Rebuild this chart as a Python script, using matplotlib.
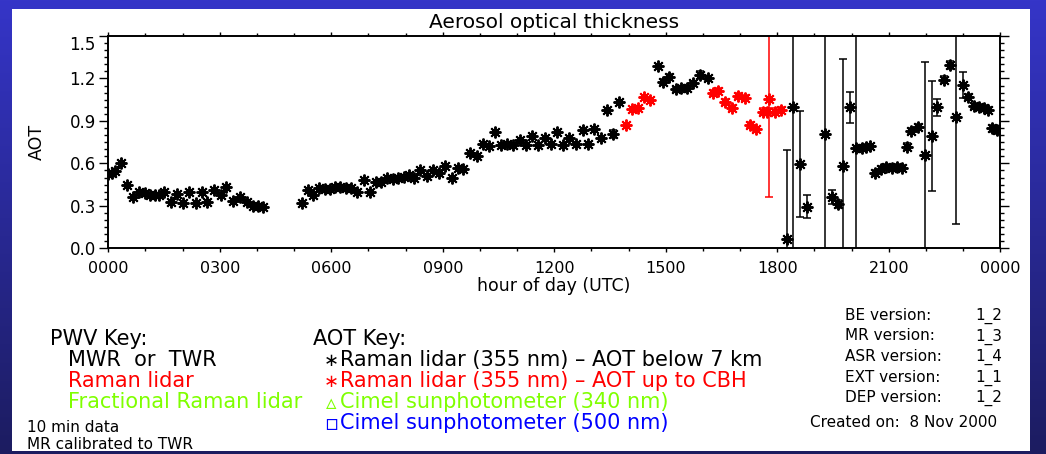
import numpy as np
import matplotlib.pyplot as plt
from matplotlib.patches import Rectangle
from matplotlib.transforms import ScaledTranslation

# Raman lidar (355 nm) AOT below 7 km
black_hour = [0.00, 0.09, 0.18, 0.33, 0.49, 0.67, 0.83, 0.99, 1.12, 1.26, 1.37, 1.50,
              1.68, 1.86, 2.02, 2.18, 2.36, 2.52, 2.66, 2.84, 3.02, 3.18, 3.36, 3.54,
              3.72, 3.90, 4.03, 4.17,
              5.20, 5.38, 5.52, 5.68, 5.83, 5.96, 6.10, 6.23, 6.39, 6.53, 6.70, 6.88,
              7.04, 7.20, 7.34, 7.51, 7.66, 7.80, 7.95, 8.10, 8.22, 8.39, 8.57, 8.73,
              8.90, 9.06, 9.24, 9.42, 9.55, 9.73, 9.91, 10.07, 10.25, 10.40, 10.56,
              10.74, 10.90, 11.08, 11.24, 11.39, 11.57, 11.75, 11.90, 12.08, 12.24,
              12.40, 12.58, 12.76, 12.90, 13.07, 13.25, 13.41, 13.59, 13.75,
              14.80, 14.93, 15.09, 15.27, 15.40, 15.56, 15.74, 15.92, 16.14,
              18.25, 18.43, 18.61, 18.79, 19.28, 19.46, 19.64, 19.77, 19.95, 20.12,
              20.27, 20.40, 20.49, 20.63, 20.78, 20.92, 21.08, 21.23, 21.35, 21.48,
              21.61, 21.79, 21.97, 22.15, 22.30, 22.48, 22.65, 22.82, 22.99, 23.14,
              23.29, 23.43, 23.56, 23.67, 23.79, 23.90]
black_aot = [0.525, 0.53, 0.545, 0.605, 0.447, 0.365, 0.40, 0.39, 0.38, 0.375, 0.38, 0.40,
             0.33, 0.385, 0.32, 0.395, 0.32, 0.40, 0.325, 0.415, 0.38, 0.43, 0.335, 0.365,
             0.325, 0.30, 0.30, 0.295,
             0.32, 0.41, 0.38, 0.425, 0.42, 0.42, 0.43, 0.435, 0.425, 0.425, 0.395, 0.48,
             0.40, 0.465, 0.47, 0.50, 0.49, 0.495, 0.505, 0.517, 0.50, 0.55, 0.51, 0.55,
             0.535, 0.58, 0.50, 0.57, 0.56, 0.676, 0.65, 0.74, 0.72, 0.825, 0.73,
             0.74, 0.73, 0.765, 0.73, 0.79, 0.73, 0.78, 0.74, 0.825, 0.73,
             0.78, 0.74, 0.835, 0.74, 0.84, 0.78, 0.977, 0.807, 1.036,
             1.285, 1.177, 1.213, 1.123, 1.13, 1.13, 1.165, 1.225, 1.20,
             0.063, 0.996, 0.594, 0.294, 0.807, 0.365, 0.313, 0.58, 0.996, 0.707,
             0.71, 0.715, 0.72, 0.53, 0.558, 0.577, 0.57, 0.577, 0.57, 0.718,
             0.83, 0.86, 0.66, 0.794, 0.996, 1.19, 1.295, 0.925, 1.154, 1.07,
             1.005, 1.0, 0.99, 0.977, 0.848, 0.836]
black_err = [0.0] * 80 + [0.03, 0.0,
             0.0, 0.02, 0.02, 0.02, 0.02, 0.02, 0.02, 0.03, 0.02,
             0.63, 1.0, 0.375, 0.08, 1.0, 0.05, 0.03, 0.755, 0.11, 1.0,
             0.02, 0.02, 0.02, 0.02, 0.02, 0.02, 0.02, 0.02, 0.02, 0.025,
             0.02, 0.02, 0.655, 0.39, 0.06, 0.025, 0.025, 0.75, 0.09, 0.02,
             0.02, 0.02, 0.02, 0.02, 0.025, 0.025]

# Raman lidar (355 nm) AOT up to cloud base
red_hour = [13.93, 14.08, 14.24, 14.41, 14.57, 16.26, 16.41, 16.59, 16.77, 16.95, 17.13,
            17.26, 17.44, 17.61, 17.72, 17.78, 17.94, 18.09]
red_aot = [0.87, 0.985, 0.99, 1.07, 1.045, 1.095, 1.114, 1.036, 0.99, 1.076, 1.06,
           0.87, 0.84, 0.965, 0.965, 1.053, 0.965, 0.977]
red_err = [0.0, 0.0, 0.0, 0.0, 0.0, 0.02, 0.02, 0.02, 0.02, 0.02, 0.02,
           0.02, 0.02, 0.025, 0.025, 0.69, 0.025, 0.02]

tick_hours = [0, 3, 6, 9, 12, 15, 18, 21, 24]
tick_labels = ["0000", "0300", "0600", "0900", "1200", "1500", "1800", "2100", "0000"]
aot_ticks = [0.0, 0.3, 0.6, 0.9, 1.2, 1.5]

W, H = 1046, 454
fig = plt.figure(figsize=(W / 100, H / 100), dpi=100)


def px(x, y):
    # pixel position (from top-left) -> figure fraction
    return x / W, 1 - y / H


# blue gradient backdrop with a white panel on top
bg = fig.add_axes([0, 0, 1, 1], zorder=-2)
top = np.array([0x35, 0x35, 0xc8]) / 255
bot = np.array([0x1c, 0x1c, 0x60]) / 255
t = np.linspace(0, 1, 256)[:, None, None]
bg.imshow(top + (bot - top) * t, aspect="auto", extent=[0, 1, 0, 1])
bg.axis("off")
fig.patches.append(Rectangle(px(12, 451), (1030 - 12) / W, (451 - 9) / H,
                             transform=fig.transFigure, facecolor="white",
                             edgecolor="none", zorder=-1))

ax = fig.add_axes([108.3 / W, 1 - 248.3 / H, 892 / W, 212.3 / H])

star = (8, 2, 0)
for hours, aot, err, col in [(black_hour, black_aot, black_err, "black"),
                             (red_hour, red_aot, red_err, "red")]:
    hours, aot, err = np.array(hours), np.array(aot), np.array(err)
    m = err > 0
    ax.errorbar(hours[m], aot[m], yerr=err[m], fmt="none", ecolor=col,
                elinewidth=1.1, capsize=2.6, capthick=1.1)
    ax.plot(hours, aot, linestyle="none", marker=star, ms=8.5, mew=1.4, color=col)

ax.set_xlim(0, 24)
ax.set_ylim(0, 1.5)
ax.set_xticks(tick_hours)
ax.set_xticklabels(tick_labels)
ax.set_xticks(range(25), minor=True)
ax.set_yticks(aot_ticks)
ax.set_yticklabels([f"{v:.1f}" for v in aot_ticks])
ax.set_yticks(np.arange(0, 1.501, 0.05), minor=True)

for s in ax.spines.values():
    s.set_linewidth(1.4)
ax.tick_params(which="both", direction="out", top=True, right=True, width=1)
ax.tick_params(axis="x", which="major", length=3, pad=6, labelsize=11.5)
ax.tick_params(axis="x", which="minor", length=2)
ax.tick_params(axis="y", which="major", length=6.5, pad=2.4, labelsize=12)
ax.tick_params(axis="y", which="minor", length=3)

# top y label sits a little below its tick
top_lab = ax.get_yticklabels()[-1]
top_lab.set_transform(top_lab.get_transform() + ScaledTranslation(0, -0.07, fig.dpi_scale_trans))

fig.text(*px(554, 28.3), "Aerosol optical thickness", ha="center", va="baseline", fontsize=14.5)
fig.text(*px(554, 291), "hour of day (UTC)", ha="center", va="baseline", fontsize=12.5)
fig.text(*px(37, 142), "AOT", ha="center", va="center", rotation=90, fontsize=12.5)

# keys
big = 15
green = "#7fff00"
fig.text(*px(50, 345), "PWV Key:", va="baseline", fontsize=big)
fig.text(*px(68, 366), "MWR  or  TWR", va="baseline", fontsize=big)
fig.text(*px(68, 387), "Raman lidar", va="baseline", fontsize=big, color="red")
fig.text(*px(68, 408), "Fractional Raman lidar", va="baseline", fontsize=big, color=green)
fig.text(*px(27, 432), "10 min data", va="baseline", fontsize=11)
fig.text(*px(27, 449), "MR calibrated to TWR", va="baseline", fontsize=11)

fig.text(*px(313, 345), "AOT Key:", va="baseline", fontsize=big)
aot_keys = [("∗", 13, "Raman lidar (355 nm) – AOT below 7 km", "black"),
            ("∗", 13, "Raman lidar (355 nm) – AOT up to CBH", "red"),
            ("▵", 15, "Cimel sunphotometer (340 nm)", green),
            ("▫", 15, "Cimel sunphotometer (500 nm)", "blue")]
for i, (sym, size, label, col) in enumerate(aot_keys):
    y = 366 + 21 * i
    fig.text(*px(331, y - 5), sym, ha="center", va="center", fontsize=size, color=col)
    fig.text(*px(340, y), label, va="baseline", fontsize=big, color=col)

versions = [("BE version:", "1_2"), ("MR version:", "1_3"), ("ASR version:", "1_4"),
            ("EXT version:", "1_1"), ("DEP version:", "1_2")]
for i, (name, ver) in enumerate(versions):
    y = 320 + 20.5 * i
    fig.text(*px(845, y), name, va="baseline", fontsize=11)
    fig.text(*px(975, y), ver, va="baseline", fontsize=11)
fig.text(*px(997, 427), "Created on:  8 Nov 2000", ha="right", va="baseline", fontsize=11)

fig.savefig("out.png", dpi=100)
